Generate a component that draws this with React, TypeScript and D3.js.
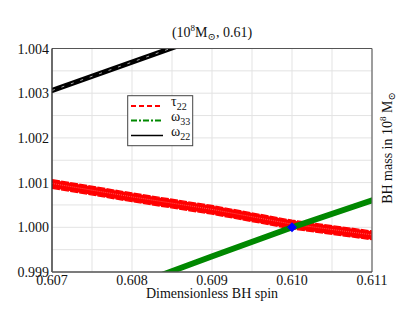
import React from "react";
import * as d3 from "d3";

const spinTicks = [0.607, 0.608, 0.609, 0.61, 0.611];
const massTicks = [0.999, 1.0, 1.001, 1.002, 1.003, 1.004];
const spinGrid = [0.6075, 0.6085, 0.6095, 0.6105];
const massGrid = [0.9995, 1.0005, 1.0015, 1.0025, 1.0035];

const tauSpin = [0.607, 0.608, 0.609, 0.61, 0.611];
const tauMass = [1.00097, 1.00067, 1.00039, 1.00006, 0.99982];
const tauHalf = 0.00011;

const w33Spin = [0.6082, 0.609, 0.61, 0.611];
const w33Mass = [0.99882, 0.99935, 1.0, 1.0006];
const w33Half = 0.00007;

const w22Spin = [0.607, 0.6087];
const w22Mass = [1.00306, 1.00414];
const w22Half = 0.00006;

const bestSpin = [0.61];
const bestMass = [1.0];

const W = 415, H = 321;
const L = 52, R = 372, T = 48.5, B = 272;
const font = "'Liberation Serif', 'DejaVu Serif', serif";

export default function App() {
  const x = d3.scaleLinear().domain([0.607, 0.611]).range([L, R]);
  const y = d3.scaleLinear().domain([0.999, 1.004]).range([B, T]);

  const tauPts = tauSpin.map((s, i) => [s, tauMass[i]] as [number, number]);
  const w33Pts = w33Spin.map((s, i) => [s, w33Mass[i]] as [number, number]);
  const w22Pts = w22Spin.map((s, i) => [s, w22Mass[i]] as [number, number]);

  const lineOff = (off: number) =>
    d3.line<[number, number]>().x(d => x(d[0])).y(d => y(d[1] + off));
  const area = (half: number) =>
    d3.area<[number, number]>().x(d => x(d[0])).y0(d => y(d[1] - half)).y1(d => y(d[1] + half));

  const nTau = 8;
  const tauLines = d3.range(nTau).map(k => -tauHalf + (k + 0.5) * (2 * tauHalf) / nTau);
  const tauStroke = (y(0) - y(2 * tauHalf)) / nTau * 1.15;

  return (
    <svg width={W} height={H} style={{ position: "absolute", left: 0, top: 0, background: "#fff" }} fontFamily={font}>
      <defs>
        <clipPath id="plotclip">
          <rect x={L} y={T} width={R - L} height={B - T} />
        </clipPath>
      </defs>
      <rect x={0} y={0} width={W} height={H} fill="#fff" />
      {/* grid */}
      {[...spinTicks, ...spinGrid].map((s, i) => (
        <line key={"gx" + i} x1={x(s)} x2={x(s)} y1={T} y2={B} stroke="#e3e3e3" strokeWidth={1} />
      ))}
      {[...massTicks, ...massGrid].map((m, i) => (
        <line key={"gy" + i} x1={L} x2={R} y1={y(m)} y2={y(m)} stroke="#e3e3e3" strokeWidth={1} />
      ))}
      <g clipPath="url(#plotclip)">
        {/* tau22 band: stacked red dashed lines */}
        <path d={area(tauHalf * 0.85)(tauPts) || ""} fill="#ff0000" />
        {tauLines.map((o, i) => (
          <path key={"t" + i} d={lineOff(o)(tauPts) || ""} fill="none" stroke="#ff0000"
            strokeWidth={tauStroke} strokeDasharray="8,1.2" />
        ))}
        <path d={lineOff(tauHalf * 0.1)(tauPts) || ""} fill="none" stroke="#ffffff" strokeOpacity={0.55}
          strokeWidth={0.6} strokeDasharray="1,1" />
        {/* omega33 band */}
        <path d={area(w33Half)(w33Pts) || ""} fill="#008800" />
        {/* omega22 band */}
        <path d={area(w22Half)(w22Pts) || ""} fill="#000000" />
        <path d={lineOff(0)(w22Pts) || ""} fill="none" stroke="#ffffff" strokeOpacity={0.8}
          strokeWidth={0.8} strokeDasharray="3,7" />
        {/* best fit marker */}
        {bestSpin.map((s, i) => {
          const cx = x(s), cy = y(bestMass[i]);
          const r = 5;
          return <path key={"b" + i} d={`M${cx},${cy - r}L${cx + r},${cy}L${cx},${cy + r}L${cx - r},${cy}Z`} fill="#0000ff" />;
        })}
      </g>
      {/* frame */}
      <line x1={L} x2={R} y1={T} y2={T} stroke="#555" strokeWidth={1.2} />
      <line x1={R} x2={R} y1={T} y2={B} stroke="#666" strokeWidth={1.2} />
      <line x1={L} x2={L} y1={T} y2={B} stroke="#333" strokeWidth={1.4} />
      <line x1={L} x2={R} y1={B} y2={B} stroke="#555" strokeWidth={1.6} />
      {/* y tick labels */}
      {massTicks.map((m, i) => (
        <text key={"yl" + i} x={L - 3} y={y(m) + 5} textAnchor="end" fontSize={14} fill="#111">
          {m.toFixed(3)}
        </text>
      ))}
      {/* x tick labels */}
      {spinTicks.map((s, i) => (
        <text key={"xl" + i} x={x(s)} y={285} textAnchor="middle" fontSize={14} fill="#111">
          {s.toFixed(3)}
        </text>
      ))}
      {/* x label */}
      <text x={(L + R) / 2} y={298} textAnchor="middle" fontSize={14} fill="#111">Dimensionless BH spin</text>
      {/* title */}
      <text x={(L + R) / 2} y={37} textAnchor="middle" fontSize={14} fill="#111">
        (10<tspan dy={-6} fontSize={9}>8</tspan><tspan dy={6}>M</tspan><tspan dy={3} fontSize={10}>⊙</tspan><tspan dy={-3}>, 0.61)</tspan>
      </text>
      {/* right y label */}
      <text transform={`translate(392,148) rotate(-90)`} textAnchor="middle" fontSize={14} fill="#111">
        BH mass in 10<tspan dy={-6} fontSize={9}>8</tspan><tspan dy={6}> M</tspan><tspan dy={3} fontSize={10}>⊙</tspan>
      </text>
      {/* legend */}
      <g>
        <rect x={127.7} y={95.7} width={65} height={50} fill="#fff" stroke="#444" strokeWidth={1} />
        <line x1={131} x2={163} y1={106} y2={106} stroke="#ff0000" strokeWidth={2} strokeDasharray="5,3" />
        <text x={171} y={106} fontSize={14} fill="#111">τ<tspan dy={4} fontSize={10}>22</tspan></text>
        <line x1={131} x2={163} y1={120.5} y2={120.5} stroke="#008800" strokeWidth={2} strokeDasharray="6,2,2,2" />
        <text x={171} y={121} fontSize={14} fill="#111">ω<tspan dy={4} fontSize={10}>33</tspan></text>
        <line x1={131} x2={163} y1={135.5} y2={135.5} stroke="#000" strokeWidth={1.5} />
        <text x={171} y={136} fontSize={14} fill="#111">ω<tspan dy={4} fontSize={10}>22</tspan></text>
      </g>
    </svg>
  );
}
